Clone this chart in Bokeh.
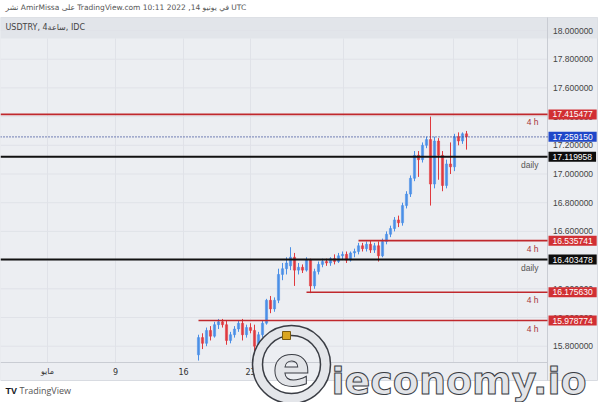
from bokeh.plotting import figure
from bokeh.models import Range1d, Label
from bokeh.core.properties import value
from bokeh.embed import file_html
from bokeh.resources import INLINE

# ---- data (4h candles, USDTRY) ----
opens = [15.74, 15.86, 15.82, 15.91, 15.87, 15.95, 15.97, 15.95, 15.84, 15.88,
         15.92, 15.96, 15.88, 15.93, 15.91, 15.80, 15.88, 15.96, 16.12, 16.06,
         16.12, 16.30, 16.34, 16.36, 16.42, 16.33, 16.35, 16.33, 16.40, 16.22,
         16.32, 16.37, 16.39, 16.38, 16.41, 16.39, 16.43, 16.44, 16.40, 16.45,
         16.46, 16.50, 16.48, 16.51, 16.47, 16.50, 16.43, 16.53, 16.58, 16.62,
         16.68, 16.66, 16.78, 16.86, 16.97, 17.13, 17.10, 17.20, 17.24, 16.93,
         17.23, 17.13, 16.92, 17.07, 17.05, 17.26, 17.23, 17.28]
highs = [15.88, 15.89, 15.93, 15.94, 15.97, 15.99, 15.99, 15.98, 15.90, 15.94,
         15.98, 15.99, 15.95, 15.96, 15.95, 15.90, 15.98, 16.13, 16.15, 16.14,
         16.34, 16.38, 16.42, 16.49, 16.45, 16.38, 16.37, 16.42, 16.41, 16.34,
         16.39, 16.41, 16.41, 16.42, 16.44, 16.45, 16.46, 16.46, 16.46, 16.48,
         16.52, 16.52, 16.53, 16.54, 16.52, 16.53, 16.55, 16.60, 16.64, 16.70,
         16.71, 16.80, 16.88, 16.99, 17.16, 17.16, 17.22, 17.26, 17.40, 17.26,
         17.25, 17.16, 17.10, 17.22, 17.28, 17.29, 17.29, 17.30]
lows = [15.70, 15.78, 15.80, 15.84, 15.86, 15.92, 15.93, 15.81, 15.82, 15.86,
        15.90, 15.84, 15.86, 15.89, 15.74, 15.78, 15.86, 15.95, 16.03, 16.04,
        16.10, 16.26, 16.30, 16.33, 16.22, 16.30, 16.31, 16.32, 16.17, 16.20,
        16.30, 16.35, 16.36, 16.36, 16.37, 16.38, 16.40, 16.38, 16.39, 16.42,
        16.44, 16.46, 16.46, 16.45, 16.45, 16.39, 16.42, 16.51, 16.56, 16.60,
        16.63, 16.64, 16.76, 16.84, 16.95, 16.98, 17.08, 17.18, 16.78, 16.90,
        16.96, 16.88, 16.90, 17.00, 17.02, 17.20, 17.21, 17.17]
closes = [15.86, 15.82, 15.91, 15.87, 15.95, 15.97, 15.95, 15.84, 15.88, 15.92,
          15.96, 15.88, 15.93, 15.91, 15.80, 15.88, 15.96, 16.12, 16.06, 16.12,
          16.30, 16.34, 16.38, 16.42, 16.33, 16.35, 16.33, 16.40, 16.22, 16.32,
          16.37, 16.39, 16.38, 16.41, 16.39, 16.43, 16.44, 16.40, 16.45, 16.46,
          16.50, 16.48, 16.51, 16.47, 16.50, 16.43, 16.53, 16.58, 16.62, 16.68,
          16.66, 16.78, 16.86, 16.97, 17.13, 17.10, 17.20, 17.24, 16.93, 17.23,
          17.13, 16.92, 17.07, 17.05, 17.26, 17.23, 17.28, 17.25915]

level_values = [17.415477, 17.119958, 16.535741, 16.403478, 16.175630, 15.978774]
level_kinds = ["4 h", "daily", "4 h", "daily", "4 h", "4 h"]
level_start = [None, None, 40, None, 27, 0]   # candle index where a level begins
last_price = 17.259150

price_ticks = [15.8, 16.0, 16.2, 16.4, 16.6, 16.8, 17.0, 17.2, 17.4, 17.6, 17.8, 18.0]
date_tick_index = [-37.75, -20.75, -3.75, 13.0, 36.25, 63.75, 79.75]
date_tick_labels = ["مايو", "9", "16", "23", "", "", ""]

header_text = "نشر AmirMissa على TradingView.com 10:11 2022 ,14 في يونيو UTC"
symbol_text = "USDTRY, 4ساعة, IDC"

# ---- styling / layout ----
UP = "#4a8fe7"
DOWN = "#e0393e"
RED_LINE = "#c0282d"
RED_BOX = "#d12f33"
BLUE_BOX = "#1f47c9"
PANEL = "#eceef2"
BAND = "#e2e5ea"
GRID = "#e0e2e8"
FONT = "Liberation Sans"
BOX_PAD = dict(left=4, right=4, top=2, bottom=2)

W, H = 602, 402
X_LEFT, X_RIGHT = -49.5, 101.0          # full canvas in candle-index units
Y_LOW, Y_HIGH = 15.4077, 18.2091        # full canvas in price units
CHART_RIGHT = 87.25                      # price-axis separator
PANEL_RIGHT = 99.75
CHART_TOP = 18.0906
CHART_BOTTOM = 15.6864
PANEL_BOTTOM = 15.5610
BAND_BOTTOM = 17.9443
AXIS_TEXT_X = 88.6
BOX_X = 87.5
TAG_X = 85.0
DATE_TEXT_Y = 15.6237

p = figure(width=W, height=H, output_backend="svg", toolbar_location=None,
           x_range=Range1d(X_LEFT, X_RIGHT), y_range=Range1d(Y_LOW, Y_HIGH),
           min_border=0, background_fill_color="white", border_fill_color="white")
p.outline_line_color = None
p.axis.visible = False
p.grid.visible = False

# panel, legend band
p.quad(left=[X_LEFT], right=[PANEL_RIGHT], bottom=[PANEL_BOTTOM], top=[CHART_TOP],
       fill_color=PANEL, line_color="#d8dbe1", line_width=1)
p.quad(left=[X_LEFT], right=[PANEL_RIGHT], bottom=[BAND_BOTTOM], top=[CHART_TOP],
       fill_color=BAND, line_color=None)

# grid
p.segment(x0=date_tick_index, y0=[CHART_BOTTOM] * len(date_tick_index),
          x1=date_tick_index, y1=[BAND_BOTTOM] * len(date_tick_index),
          line_color=GRID, line_width=1)
p.segment(x0=[X_LEFT] * len(price_ticks), y0=price_ticks,
          x1=[CHART_RIGHT] * len(price_ticks), y1=price_ticks,
          line_color=GRID, line_width=1)

# axis separators
p.segment(x0=[CHART_RIGHT], y0=[PANEL_BOTTOM], x1=[CHART_RIGHT], y1=[CHART_TOP],
          line_color="#c9ccd3", line_width=1)
p.segment(x0=[X_LEFT], y0=[CHART_BOTTOM], x1=[CHART_RIGHT], y1=[CHART_BOTTOM],
          line_color="#c9ccd3", line_width=1)

# axis tick labels
p.text(x=[AXIS_TEXT_X] * len(price_ticks), y=price_ticks,
       text=[f"{v:.6f}" for v in price_ticks], text_align="left",
       text_baseline="middle", text_font=value(FONT), text_font_size="8.5px",
       text_color="#444444")
p.text(x=date_tick_index, y=[DATE_TEXT_Y] * len(date_tick_index),
       text=date_tick_labels, text_align="center", text_baseline="middle",
       text_font=value("DejaVu Sans"), text_font_size="8px", text_color="#333333")

# candles
idx = list(range(len(opens)))
colors = [UP if c >= o else DOWN for o, c in zip(opens, closes)]
p.segment(x0=idx, y0=highs, x1=idx, y1=lows, color=colors, line_width=1)
p.vbar(x=idx, width=0.55, top=[max(o, c) for o, c in zip(opens, closes)],
       bottom=[min(o, c) for o, c in zip(opens, closes)],
       fill_color=colors, line_color=colors, line_width=0.5)

# levels
for val, kind, start in zip(level_values, level_kinds, level_start):
    x_start = X_LEFT if start is None else start
    is_daily = kind == "daily"
    p.segment(x0=[x_start], y0=[val], x1=[CHART_RIGHT], y1=[val],
              line_color="#111111" if is_daily else RED_LINE,
              line_width=2 if is_daily else 1.6)
    p.add_layout(Label(x=TAG_X, y=val, y_offset=-8, text=kind,
                       text_align="right", text_baseline="middle",
                       text_font=FONT, text_font_size="8.5px",
                       text_color="#555555" if is_daily else "#a8343a"))
    p.add_layout(Label(x=BOX_X, y=val, text=f"{val:.6f}",
                       text_align="left", text_baseline="middle",
                       text_font=FONT, text_font_size="8.5px", text_color="white",
                       background_fill_color="#0d0d0d" if is_daily else RED_BOX,
                       padding=BOX_PAD))

# last price
p.segment(x0=[X_LEFT], y0=[last_price], x1=[CHART_RIGHT], y1=[last_price],
          line_color="#2a3f8f", line_width=1.2, line_dash="1 2")
p.add_layout(Label(x=BOX_X, y=last_price, text=f"{last_price:.6f}",
                   text_align="left", text_baseline="middle",
                   text_font=FONT, text_font_size="8.5px", text_color="white",
                   background_fill_color=BLUE_BOX, padding=BOX_PAD))

# header, symbol, footer
p.add_layout(Label(x=5, y=395, x_units="screen", y_units="screen",
                   text=header_text, text_baseline="middle", text_font="DejaVu Sans",
                   text_font_size="7.5px", text_color="#555555"))
p.add_layout(Label(x=5, y=375, x_units="screen", y_units="screen",
                   text=symbol_text, text_baseline="middle", text_font="DejaVu Sans",
                   text_font_size="8px", text_color="#444444"))
p.add_layout(Label(x=5, y=12, x_units="screen", y_units="screen",
                   text="TV", text_baseline="middle", text_font=FONT,
                   text_font_style="bold", text_font_size="9px", text_color="#131722"))
p.add_layout(Label(x=19, y=12, x_units="screen", y_units="screen",
                   text="TradingView", text_baseline="middle", text_font="Open Sans",
                   text_font_size="9px", text_color="#555555"))

# watermark (ieconomy.io logo)
p.annulus(x=[23.25], y=[15.6725], inner_radius=29, outer_radius=39,
          inner_radius_units="screen", outer_radius_units="screen",
          fill_color="#e4e6ea", line_color="#3a3d44", line_width=1.5)
p.rect(x=[22.0], y=[15.8746], width=8, height=8, width_units="screen",
       height_units="screen", fill_color="#d9a520", line_color="#7a5a10")
p.add_layout(Label(x=291, y=38, x_units="screen", y_units="screen",
                   text="e", text_align="center", text_baseline="middle",
                   text_font="DejaVu Sans", text_font_style="bold",
                   text_font_size="56px",
                   text_color="#e2e4e8", text_outline_color="#3a3d44"))
p.add_layout(Label(x=331, y=22, x_units="screen", y_units="screen",
                   text="ieconomy.io", text_align="left", text_baseline="alphabetic",
                   text_font="DejaVu Sans", text_font_style="bold",
                   text_font_size="38px",
                   text_color="#e2e4e8", text_outline_color="#3a3d44"))

open("out.html", "w").write(file_html(p, INLINE))
